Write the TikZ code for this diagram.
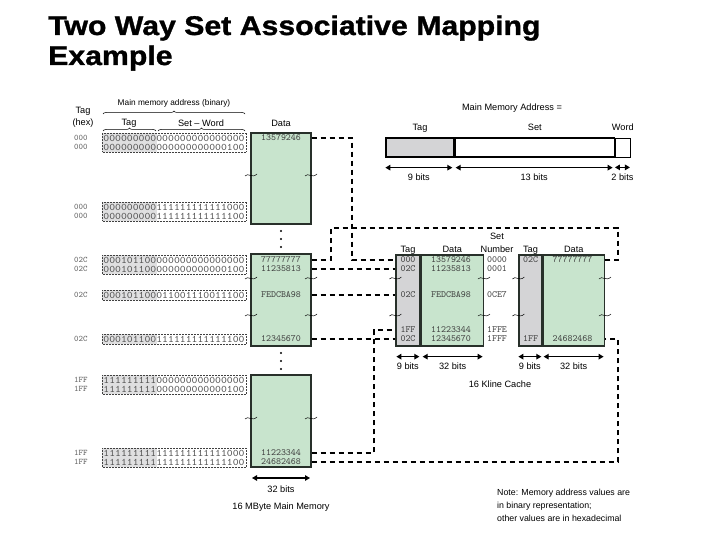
\documentclass[tikz,border=0pt]{standalone}
\usepackage{fontspec}
\setmainfont{Liberation Sans}
\newfontfamily\titlefont{Liberation Sans}[FakeStretch=1.12, BoldFeatures={FakeBold=1.2}]
\newfontfamily\binfont{Latin Modern Mono}[FakeStretch=1.12]
\usetikzlibrary{positioning,arrows.meta,decorations.pathreplacing}

\definecolor{memgreen}{RGB}{200,228,205}
\definecolor{taggrey}{RGB}{212,212,214}
\definecolor{boxline}{RGB}{40,48,42}
\definecolor{hexink}{RGB}{60,60,60}

\begin{document}
\begin{tikzpicture}[x=1pt, y=-1pt,
    memblk/.style={draw=boxline, line width=1.3pt, fill=memgreen, inner sep=0pt},
    tagblk/.style={draw=boxline, line width=1.3pt, fill=taggrey, inner sep=0pt},
    hexval/.style={font=\ttfamily\fontsize{9.5}{10}\selectfont, text=hexink, inner sep=0pt},
    binval/.style={font=\binfont\fontsize{10}{10}\selectfont, text=hexink!90, inner sep=0pt},
    taghex/.style={font=\ttfamily\fontsize{8.5}{9}\selectfont, text=hexink!80, inner sep=0pt, anchor=west},
    lbl/.style={font=\fontsize{9.2}{10}\selectfont, inner sep=0pt},
    binbox/.style={draw=black!75, densely dotted, line width=0.5pt},
    link/.style={line width=1.4pt, dash pattern=on 5.5pt off 3.5pt},
    span/.style={{Triangle[length=5pt,width=5.5pt]}-{Triangle[length=5pt,width=5.5pt]}, line width=1.1pt},
    squig/.pic={\draw[line width=0.5pt] (-6,1) .. controls (-3,-3) and (1,4) .. (6,-1);},
    brc/.style={decorate, decoration={brace, amplitude=3pt}, line width=0.5pt}]
  \fill[white] (0,0) rectangle (720,540);
  \useasboundingbox (0,0) rectangle (720,540);

  % title
  \node[anchor=base west, inner sep=0pt, font=\titlefont\bfseries\fontsize{27}{30}\selectfont] (ttl) at (48,35) {Two Way Set Associative Mapping};
  \node[anchor=base west, inner sep=0pt, font=\titlefont\bfseries\fontsize{27}{30}\selectfont] (ttl2) at (48,65) {Example};

  % main memory: address columns
  \node[lbl] (hdtag) at (83,111) {Tag};
  \node[lbl] (hdhex) at (83,123) {(hex)};
  \node[lbl, font=\fontsize{8.3}{10}\selectfont] (hdaddr) at (174,103) {Main memory address (binary)};
  \draw[brc] (103,114) -- (245,114);
  \node[lbl] (hdsub1) at (129,123) {Tag};
  \node[lbl] (hdsub2) at (201,123) {Set -- Word};
  \draw[brc] (103,131) -- (156,131);
  \draw[brc] (158,131) -- (245,131);

  \foreach \ya/\yb in {133/152, 202/221, 255/274, 290/300, 334/344, 375/394, 448/467} {
    \fill[taggrey!75] (102,\ya) rectangle (157,\yb);
    \draw[binbox] (102,\ya) rectangle (246,\yb);
  }
  \foreach \ry/\th/\bits [count=\i] in {
      138/000/000000000000000000000000, 147/000/000000000000000000000100,
      207/000/000000000111111111111000, 216/000/000000000111111111111100,
      260/02C/000101100000000000000000, 269/02C/000101100000000000000100,
      295/02C/000101100011001110011100,
      339/02C/000101100111111111111100,
      380/1FF/111111111000000000000000, 389/1FF/111111111000000000000100,
      453/1FF/111111111111111111111000, 462/1FF/111111111111111111111100} {
    \node[taghex] (hx\i) at (74,\ry) {\th};
    \node[binval] (bn\i) at (174,\ry) {\bits};
  }

  % main memory blocks
  \node[lbl] (hddata) at (281,123) {Data};
  \node[memblk, minimum width=60pt, minimum height=91pt] (mm1) at (281,178.5) {};
  \node[memblk, minimum width=60pt, minimum height=92pt] (mm2) at (281,300) {};
  \node[memblk, minimum width=60pt, minimum height=92pt] (mm3) at (281,421) {};
  \foreach \dy in {231,239,247,353,361,369}
    \fill (281,\dy) circle (1.2);
  \node[hexval] (mA) at (281,138) {13579246};
  \node[hexval] (mB) at (281,260) {77777777};
  \node[hexval] (mC) at (281,269) {11235813};
  \node[hexval] (mD) at (281,295) {FEDCBA98};
  \node[hexval] (mE) at (281,339) {12345670};
  \node[hexval] (mF) at (281,453) {11223344};
  \node[hexval] (mG) at (281,462) {24682468};
  \foreach \sy in {175,278,315,418} {
    \pic at (251,\sy) {squig};
    \pic at (311,\sy) {squig};
  }
  \draw[span] (252,478) -- (310,478);
  \node[lbl] (mmbits) at (281,489) {32 bits};
  \node[lbl] (mmname) at (281,507) {16 MByte Main Memory};

  % address format
  \node[lbl] (fmt) at (512,108) {Main Memory Address =};
  \node[draw=black, line width=1.3pt, fill=taggrey, minimum width=68pt, minimum height=19pt, inner sep=0pt] (ftag) at (420,147.5) {};
  \node[draw=black, line width=1.3pt, minimum width=159pt, minimum height=19pt, inner sep=0pt, right=0pt of ftag] (fset) {};
  \node[draw=black, line width=0.8pt, minimum width=15pt, minimum height=19pt, inner sep=0pt, right=0pt of fset] (fword) {};
  \node[lbl, anchor=base] (ltag) at (ftag.north |- 0,131) {Tag};
  \node[lbl, anchor=base] (lset) at (fset.north |- 0,131) {Set};
  \node[lbl, anchor=base] (lword) at (fword.north |- 0,131) {Word};
  \draw[span] (ftag.south west) ++(0,10) -- ++(67,0) node[lbl, midway, below=6pt] (b9) {9 bits};
  \draw[span] (fset.south west) ++(1,10) -- ++(157,0) node[lbl, midway, below=6pt] (b13) {13 bits};
  \draw[span] (fword.south west) ++(0,10) -- ++(15,0) node[lbl, midway, below=6pt] (b2) {2 bits};

  % cache
  \node[tagblk, minimum width=24pt, minimum height=91pt] (w0) at (408,300.5) {};
  \node[memblk, minimum width=62pt, minimum height=91pt, right=0pt of w0] (v0) {};
  \node[tagblk, minimum width=23pt, minimum height=91pt] (w1) at (530.5,300.5) {};
  \node[memblk, minimum width=61pt, minimum height=91pt, right=0pt of w1] (v1) {};
  \node[lbl, anchor=base] (cht0) at (w0.north |- 0,252) {Tag};
  \node[lbl, anchor=base] (chd0) at (v0.north |- 0,252) {Data};
  \node[lbl, anchor=base] (cht1) at (w1.north |- 0,252) {Tag};
  \node[lbl, anchor=base] (chd1) at (v1.north |- 0,252) {Data};
  \node[lbl, anchor=base] (chset) at (497,240) {Set};
  \node[lbl, anchor=base] (chnum) at (497,252) {Number};

  \node[hexval] (tA) at (408,260) {000};
  \node[hexval] (tB) at (408,269) {02C};
  \node[hexval] (tC) at (408,295) {02C};
  \node[hexval] (tD) at (408,330) {1FF};
  \node[hexval] (tE) at (408,339) {02C};
  \node[hexval] (dA) at (451,260) {13579246};
  \node[hexval] (dB) at (451,269) {11235813};
  \node[hexval] (dC) at (451,295) {FEDCBA98};
  \node[hexval] (dD) at (451,330) {11223344};
  \node[hexval] (dE) at (451,339) {12345670};
  \node[hexval] (sA) at (497,260) {0000};
  \node[hexval] (sB) at (497,269) {0001};
  \node[hexval] (sC) at (497,295) {0CE7};
  \node[hexval] (sD) at (497,330) {1FFE};
  \node[hexval] (sE) at (497,339) {1FFF};
  \node[hexval] (uA) at (530.5,260) {02C};
  \node[hexval] (uE) at (530.5,339) {1FF};
  \node[hexval] (eA) at (572.5,260) {77777777};
  \node[hexval] (eE) at (572.5,339) {24682468};
  \foreach \sy in {278,315} {
    \pic at (w0.west |- 0,\sy) {squig};
    \pic at (v0.east |- 0,\sy) {squig};
    \pic at (w1.west |- 0,\sy) {squig};
    \pic at (v1.east |- 0,\sy) {squig};
  }
  \draw[span] (w0.south west) ++(1,10) -- ++(23,0) node[lbl, midway, below=6pt] (c9a) {9 bits};
  \draw[span] (v0.south west) ++(2,10) -- ++(60,0) node[lbl, midway, below=6pt] (c32a) {32 bits};
  \draw[span] (w1.south west) ++(0,10) -- ++(23,0) node[lbl, midway, below=6pt] (c9b) {9 bits};
  \draw[span] (v1.south west) ++(1,10) -- ++(60,0) node[lbl, midway, below=6pt] (c32b) {32 bits};
  \node[lbl] (cname) at (500,384) {16 Kline Cache};

  % mapping lines
  \coordinate (jA) at (352,0);
  \coordinate (jB) at (331,228);
  \coordinate (jC) at (618,228);
  \coordinate (jD) at (374,0);
  \draw[link] (mm1.east |- mA) -| (jA |- tA) -- (w0.west |- tA);
  \draw[link] (mm2.east |- mB) -- (jB |- mB) |- (jC) |- (v1.east |- eA);
  \draw[link] (mm2.east |- mC) -- (w0.west |- tB);
  \draw[link] (mm2.east |- mD) -- (w0.west |- tC);
  \draw[link] (mm2.east |- mE) -- (w0.west |- tE);
  \draw[link] (mm3.east |- mF) -| (jD |- tD) -- (w0.west |- tD);
  \draw[link] (mm3.east |- mG) -| (jC |- eE) -- (v1.east |- eE);

  % note
  \node[lbl, anchor=north west, align=left, font=\fontsize{8.8}{13}\selectfont] (note) at (497,489) {Note: Memory address values are\\in binary representation;\\other values are in hexadecimal};
\end{tikzpicture}
\end{document}
